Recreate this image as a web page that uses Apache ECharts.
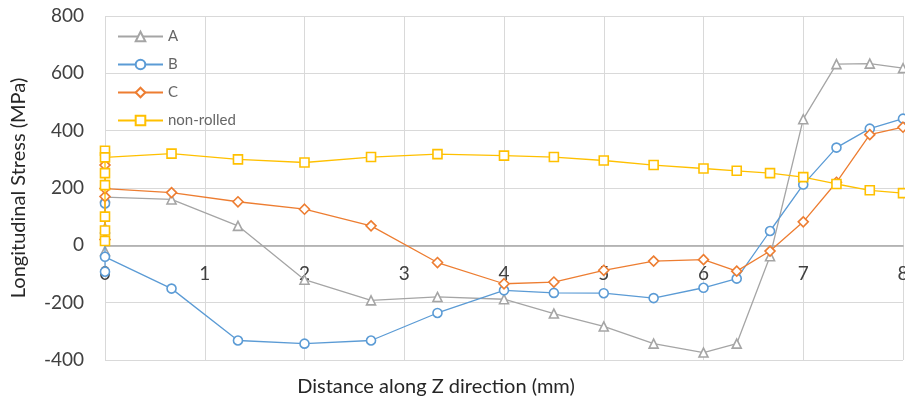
<!DOCTYPE html>
<html><head><meta charset="utf-8">
<script src="https://cdn.jsdelivr.net/npm/echarts@6/dist/echarts.min.js"></script>
<style>html,body{margin:0;padding:0;background:#fff}#c{width:905px;height:404px}</style>
</head><body><div id="c"></div>
<script>
const seriesNames = ['A', 'B', 'C', 'non-rolled'];
const xTicks = [0, 1, 2, 3, 4, 5, 6, 7, 8];
const yTicks = [-400, -200, 0, 200, 400, 600, 800];

const xA = [0, 0, 0, 0.667, 1.333, 2, 2.667, 3.333, 4, 4.5, 5, 5.5, 6, 6.333, 6.667, 7, 7.333, 7.667, 8];
const yA = [-20, 60, 168, 160, 68, -120, -192, -180, -188, -238, -283, -343, -374, -343, -38, 440, 632, 634, 618];

const xB = [0, 0, 0, 0.667, 1.333, 2, 2.667, 3.333, 4, 4.5, 5, 5.5, 6, 6.333, 6.667, 7, 7.333, 7.667, 8];
const yB = [-92, 146, -40, -151, -332, -343, -332, -236, -157, -166, -167, -184, -148, -116, 50, 212, 341, 407, 442];

const xC = [0, 0, 0, 0, 0.667, 1.333, 2, 2.667, 3.333, 4, 4.5, 5, 5.5, 6, 6.333, 6.667, 7, 7.333, 7.667, 8];
const yC = [20, 170, 280, 198, 184, 152, 126, 68, -60, -134, -128, -87, -55, -50, -90, -20, 82, 220, 386, 412];

const xN = [0, 0, 0, 0, 0, 0, 0, 0.667, 1.333, 2, 2.667, 3.333, 4, 4.5, 5, 5.5, 6, 6.333, 6.667, 7, 7.333, 7.667, 8];
const yN = [15, 52, 100, 210, 252, 330, 307, 320, 300, 289, 308, 318, 313, 308, 296, 280, 268, 260, 252, 238, 214, 192, 182];

const colors = ['#A5A5A5', '#5B9BD5', '#ED7D31', '#FFC000'];
const symbols = ['triangle', 'circle', 'diamond', 'rect'];
const xs = [xA, xB, xC, xN];
const ys = [yA, yB, yC, yN];

const FONT = 'Lato';
const gridTop = 16, gridBottom = 44, H = 404;
const plotH = H - gridTop - gridBottom;
const yMin = yTicks[0], yMax = yTicks[yTicks.length - 1];
const zeroOffset = -plotH * (0 - yMin) / (yMax - yMin);

const chart = echarts.init(document.getElementById('c'));
chart.setOption({
  animation: false,
  backgroundColor: '#fff',
  grid: {left: 105, right: 2, top: gridTop, bottom: gridBottom, containLabel: false, outerBoundsMode: 'none'},
  legend: {
    orient: 'vertical', left: 112, top: 24, itemWidth: 45, itemHeight: 12, itemGap: 13,
    textStyle: {color: '#666666', fontSize: 15, fontFamily: FONT},
    data: seriesNames
  },
  xAxis: {
    type: 'value', min: xTicks[0], max: xTicks[xTicks.length - 1], interval: 1,
    offset: zeroOffset,
    axisLine: {onZero: false, lineStyle: {color: '#A6A6A6', width: 1.5}},
    axisTick: {show: false},
    axisLabel: {color: '#404040', fontSize: 19, fontFamily: FONT, margin: 19},
    splitLine: {show: true, lineStyle: {color: '#D9D9D9', width: 1}}
  },
  yAxis: {
    type: 'value', min: yMin, max: yMax, interval: 200,
    name: 'Longitudinal Stress (MPa)', nameLocation: 'middle', nameGap: 76,
    nameTextStyle: {color: '#262626', fontSize: 20, fontFamily: FONT},
    axisLine: {show: false}, axisTick: {show: false},
    axisLabel: {color: '#404040', fontSize: 19, fontFamily: FONT, margin: 21},
    splitLine: {show: true, lineStyle: {color: '#D9D9D9', width: 1}}
  },
  graphic: [{
    type: 'text', x: 436, y: 387,
    style: {text: 'Distance along Z direction (mm)', fill: '#262626', fontSize: 20, fontFamily: FONT,
            align: 'center', verticalAlign: 'middle'}
  }],
  series: seriesNames.map((n, i) => ({
    name: n, type: 'line',
    data: xs[i].map((x, j) => [x, ys[i][j]]),
    symbol: symbols[i], symbolSize: i === 2 ? 10 : 9,
    showAllSymbol: true,
    lineStyle: {color: colors[i], width: 1.3},
    itemStyle: {color: '#fff', borderColor: colors[i], borderWidth: 1.6},
    z: 2 + i
  }))
});
</script></body></html>
